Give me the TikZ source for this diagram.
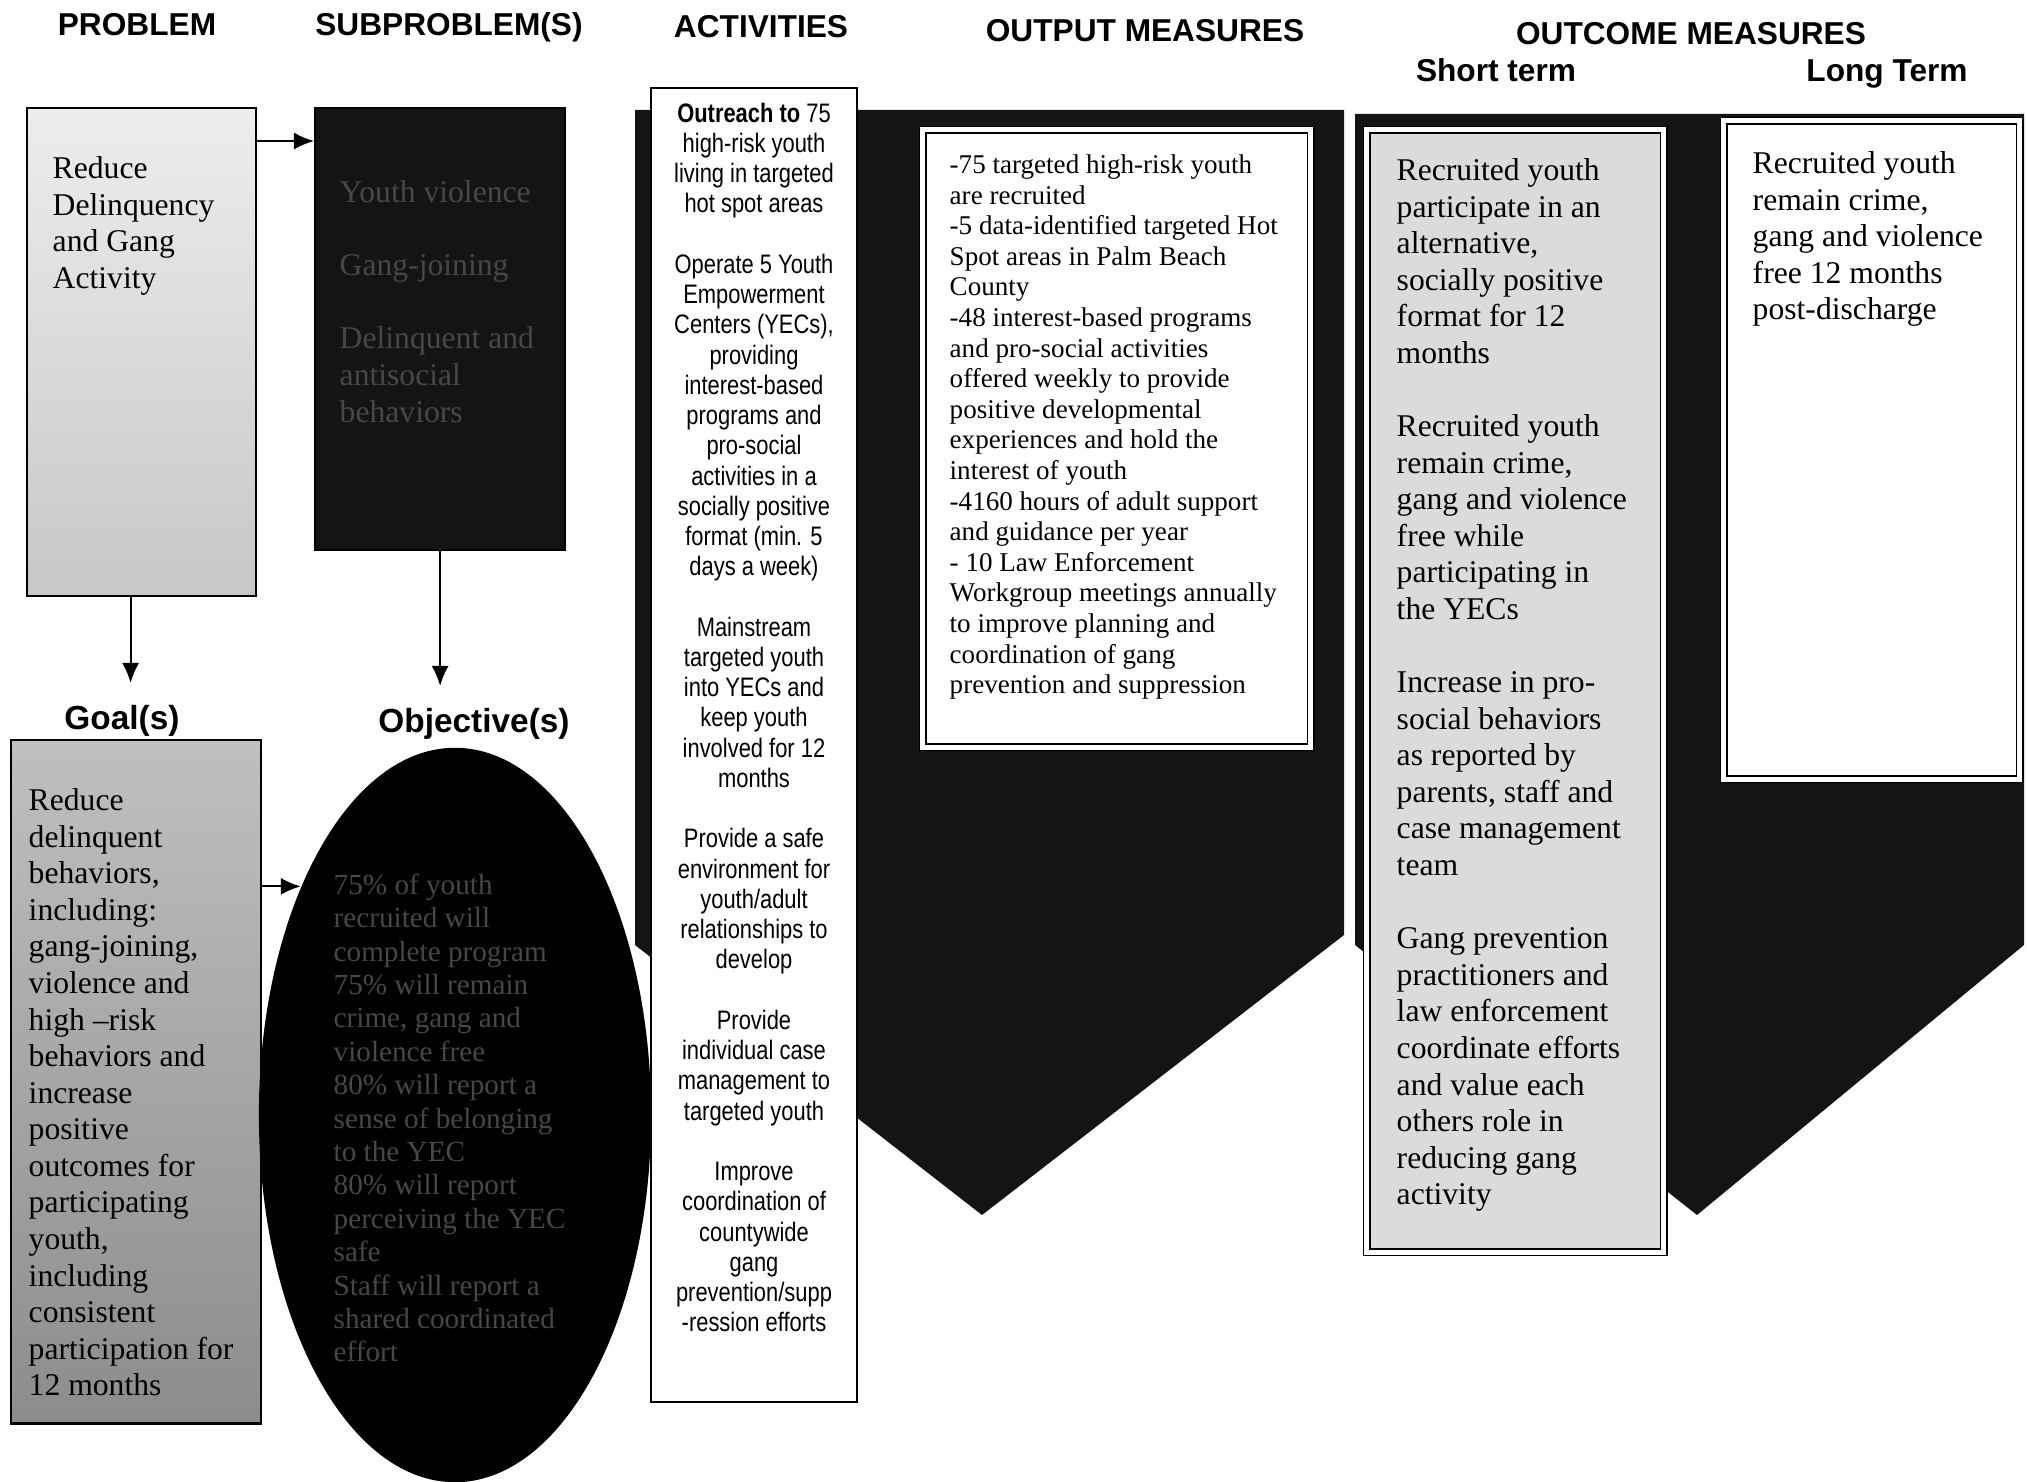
\documentclass[tikz,border=0pt]{standalone}
\usepackage{fontspec}
\setmainfont{Liberation Serif}
\setsansfont{Liberation Sans}
\newfontfamily\narrowsf[FakeStretch=0.82]{Liberation Sans}
\usetikzlibrary{arrows.meta,shapes.geometric}

\begin{document}
\begin{tikzpicture}[x=0.01cm,y=-0.01cm,
    head/.style={font=\sffamily\bfseries\fontsize{9}{10}\selectfont},
    arr/.style={-{Latex[length=0.2cm,width=0.17cm]},line width=0.6pt},
    box/.style={draw,line width=0.6pt,inner sep=0pt,anchor=north west},
    measure/.style={draw,double,double distance=0.05cm,line width=0.4pt,inner sep=0pt,anchor=north west},
    body/.style={anchor=north west,inner sep=0pt,align=left,font=\fontsize{9}{10.4}\selectfont},
    dark/.style={fill=black!92}]
  \useasboundingbox (0,0) rectangle (2027,1482);

  % column heads
  \node[head] (hprob) at (137,25) {PROBLEM};
  \node[head] (hsub) at (449,27) {SUBPROBLEM(S)};
  \node[head] (hact) at (761,27) {ACTIVITIES};
  \node[head] (hout) at (1145,31) {OUTPUT MEASURES};
  \node[head] (houtc) at (1691,34) {OUTCOME MEASURES};
  \node[head] (hshort) at (1496,70) {Short term};
  \node[head] (hlong) at (1887,74) {Long Term};

  % problem and subproblems
  \node[box,top color=black!7,bottom color=black!22,minimum width=2.29cm,minimum height=4.88cm] (prob) at (26,107) {};
  \node[body] (probtxt) at (52,156) {Reduce\\Delinquency\\and Gang\\Activity};
  \node[box,dark,minimum width=2.5cm,minimum height=4.42cm] (sub) at (314,107) {};
  \node[body,text=black!72,font=\fontsize{9}{10.4}\selectfont] (subtxt) at (339,180)
    {Youth violence\\[\baselineskip]Gang-joining\\[\baselineskip]Delinquent and\\antisocial\\behaviors};
  \draw[arr] ([yshift=-0.34cm]prob.north east) -- ([yshift=-0.34cm]sub.north west);

  % goal and objectives
  \node[font=\sffamily\bfseries\fontsize{9.5}{10}\selectfont] (goallbl) at (122,721) {Goal(s)};
  \node[font=\sffamily\bfseries\fontsize{9.5}{10}\selectfont] (objlbl) at (474,724) {Objective(s)};
  \draw[arr] ([xshift=-0.11cm]prob.south) -- ([xshift=-0.11cm,yshift=0.1cm]prob.south |- goallbl.north);
  \draw[arr] (sub.south) -- ([yshift=0.1cm]sub.south |- objlbl.north);

  \node[box,top color=black!25,bottom color=black!45,minimum width=2.5cm,minimum height=6.83cm] (goal) at (10,739) {};
  \node[body] (goaltxt) at (28,788) {Reduce\\delinquent\\behaviors,\\including:\\gang-joining,\\violence and\\high --risk\\behaviors and\\increase\\positive\\outcomes for\\participating\\youth,\\including\\consistent\\participation for\\12 months};

  \node[ellipse,fill=black,inner sep=0pt,minimum width=3.92cm,minimum height=7.34cm] (obj) at (455,1115) {};
  \node[body,text=black!72,font=\fontsize{8.3}{9.5}\selectfont] (objtxt) at (333,873)
    {75\% of youth\\recruited will\\complete program\\75\% will remain\\crime, gang and\\violence free\\80\% will report a\\sense of belonging\\to the YEC\\80\% will report\\perceiving the YEC\\safe\\Staff will report a\\shared coordinated\\effort};
  \draw[arr] (goal.east |- obj.124) -- (obj.124);

  % output measures
  \fill[dark] (635,110) -- (1344,110) -- (1344,935) -- (982,1215) -- (635,945) -- cycle;
  \node[box,fill=white,minimum width=2.06cm,minimum height=13.13cm] (act) at (650,87) {};
  \node[anchor=north,inner sep=0pt,align=center,font=\narrowsf\fontsize{7.6}{8.6}\selectfont] (acttxt) at (754,102)
    {\textbf{Outreach to} 75\\high-risk youth\\living in targeted\\hot spot areas\\[\baselineskip]
     Operate 5 Youth\\Empowerment\\Centers (YECs),\\providing\\interest-based\\programs and\\pro-social\\activities in a\\socially positive\\format (min. 5\\days a week)\\[\baselineskip]
     Mainstream\\targeted youth\\into YECs and\\keep youth\\involved for 12\\months\\[\baselineskip]
     Provide a safe\\environment for\\youth/adult\\relationships to\\develop\\[\baselineskip]
     Provide\\individual case\\management to\\targeted youth\\[\baselineskip]
     Improve\\coordination of\\countywide\\gang\\prevention/supp\\-ression efforts};

  \node[measure,fill=white,minimum width=3.88cm,minimum height=6.17cm] (out) at (922,129) {};
  \node[body,font=\fontsize{7.7}{8.7}\selectfont] (outtxt) at (949,154)
    {-75 targeted high-risk youth\\are recruited\\-5 data-identified targeted Hot\\Spot areas in Palm Beach\\County\\-48 interest-based programs\\and pro-social activities\\offered weekly to provide\\positive developmental\\experiences and hold the\\interest of youth\\-4160 hours of adult support\\and guidance per year\\- 10 Law Enforcement\\Workgroup meetings annually\\to improve planning and\\coordination of gang\\prevention and suppression};

  % outcome measures
  \fill[dark] (1355,114) -- (2024,114) -- (2024,945) -- (1697,1215) -- (1355,945) -- cycle;
  \node[measure,fill=black!14,minimum width=2.97cm,minimum height=11.22cm] (short) at (1366,129) {};
  \node[body] (shorttxt) at (1396,158)
    {Recruited youth\\participate in an\\alternative,\\socially positive\\format for 12\\months\\[\baselineskip]
     Recruited youth\\remain crime,\\gang and violence\\free while\\participating in\\the YECs\\[\baselineskip]
     Increase in pro-\\social behaviors\\as reported by\\parents, staff and\\case management\\team\\[\baselineskip]
     Gang prevention\\practitioners and\\law enforcement\\coordinate efforts\\and value each\\others role in\\reducing gang\\activity};
  \node[measure,fill=white,minimum width=2.96cm,minimum height=6.58cm] (long) at (1723,120) {};
  \node[body] (longtxt) at (1752,151)
    {Recruited youth\\remain crime,\\gang and violence\\free 12 months\\post-discharge};
\end{tikzpicture}
\end{document}
